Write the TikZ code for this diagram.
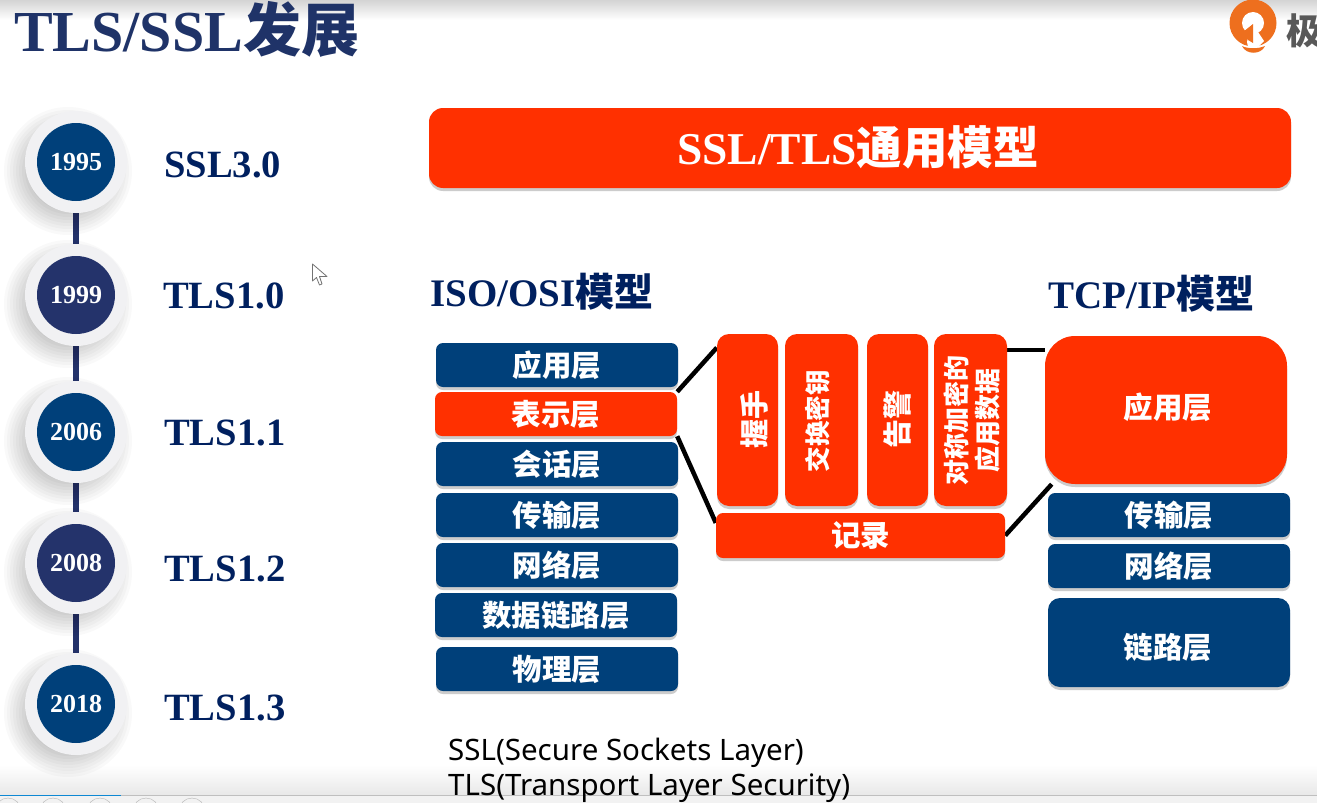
\documentclass[tikz,border=0pt]{standalone}
\usepackage{xcolor}
\usepackage{fontspec}
\usepackage{tikz}
\usetikzlibrary{backgrounds,shadows}
\setmainfont{Liberation Serif}
\setsansfont{Noto Sans}
\newfontfamily\cjk{Noto Sans CJK SC}
\definecolor{navy}{HTML}{00407A}
\definecolor{indigo}{HTML}{24336B}
\definecolor{inkblue}{HTML}{00205F}
\definecolor{titleblue}{HTML}{1F3368}
\definecolor{alert}{HTML}{FF3000}
\definecolor{ringgray}{HTML}{F1F1F3}
\definecolor{logoorange}{HTML}{EE6F1E}
\tikzset{
  every picture/.style={line cap=butt, line join=round},
  layer/.style={rounded corners=7pt, text=white, font=\cjk\bfseries\fontsize{29.5}{31}\selectfont,
    inner sep=0pt, drop shadow={shadow xshift=0pt, shadow yshift=-3pt, opacity=.4}},
  navylayer/.style={layer, fill=navy},
  redlayer/.style={layer, fill=alert},
  redcol/.style={redlayer, rounded corners=12pt, minimum height=172pt},
  collabel/.style={text=white, rotate=90, align=center, inner sep=0pt},
  boxlabel/.style={text=white, inner sep=0pt, font=\cjk\bfseries\fontsize{29.5}{31}\selectfont},
  osibox/.style={navylayer, minimum width=242pt, minimum height=44pt},
  ring/.style={circle, fill=ringgray, minimum size=102pt, inner sep=0pt},
  disc/.style={circle, minimum size=78pt, inner sep=0pt, text=white, font=\bfseries\fontsize{26}{28}\selectfont},
  version/.style={anchor=west, inner sep=0pt, text=inkblue, font=\bfseries\fontsize{38.6}{41}\selectfont},
  modelhead/.style={anchor=west, inner sep=0pt, text=inkblue, font=\bfseries\fontsize{39}{41}\selectfont},
  spine/.style={draw=indigo, line width=6pt, xshift=-1pt},
  link/.style={draw=black, line width=4.5pt},
  note/.style={anchor=west, inner sep=0pt, font=\sffamily\fontsize{29.5}{31}\selectfont}
}
\newcommand{\YearStop}[3]{%
  % #1 = year (also the node name), #2 = y position, #3 = disc colour
  \foreach \r in {64,61,...,40}
    \fill[black, opacity=.022] (68,#2+9) circle (\r pt);
  \node[ring] (ring#1) at (76,#2) {};
  \node[disc, fill=#3] (disc#1) at (76,#2) {#1};
}

\begin{document}
\begin{tikzpicture}[x=1pt,y=-1pt]
  \useasboundingbox (0,0) rectangle (1317,803);
  \begin{scope}[on background layer]
    \fill[white] (0,0) rectangle (1317,803);
  \end{scope}

  % window edges
  \shade[top color=black!17, bottom color=white] (0,0) rectangle (1317,20);
  \shade[top color=white, bottom color=black!9] (0,765) rectangle (1317,795);
  \fill[black!5] (0,795) rectangle (1317,803);
  \fill[black!25] (0,795) rectangle (1317,796);
  \fill[cyan!70!blue] (0,795) rectangle (121,796);
  \foreach \x in {8,53,100,146,192}
    \draw[black!30] (\x,811) circle (13pt);

  % heading and logo
  \node[anchor=base west, inner sep=0pt, text=titleblue, font=\bfseries\fontsize{58}{60}\selectfont]
    (heading) at (14,51) {TLS/SSL{\cjk 发展}};
  \fill[logoorange] (1253,23) circle (23.5pt);
  \fill[white] (1253,23) circle (11pt);
  \fill[white] (1249,32) -- (1258,32) -- (1264,41) -- (1258,47) -- (1248,47) -- (1247,42) -- cycle;
  \fill[logoorange] (1253,24) -- (1243,32) -- (1248,40) -- (1253,43) -- cycle;
  \fill[logoorange] (1242,46) .. controls (1248,49) and (1258,49) .. (1265,46)
    .. controls (1261,55) and (1246,55) .. (1242,46);
  \node[anchor=west, inner sep=0pt, text=black!65, font=\cjk\bfseries\fontsize{36}{38}\selectfont]
    (brand) at (1286,31) {极};

  % release timeline
  \YearStop{1995}{162}{navy}
  \YearStop{1999}{295}{indigo}
  \YearStop{2006}{432}{navy}
  \YearStop{2008}{563}{indigo}
  \YearStop{2018}{704}{navy}
  \begin{scope}[on background layer]
    \draw[spine] (ring1995) -- (ring1999);
    \draw[spine] (ring1999) -- (ring2006);
    \draw[spine] (ring2006) -- (ring2008);
    \draw[spine] (ring2008) -- (ring2018);
  \end{scope}

  \node[version] (ssl30) at (164,165) {SSL3.0};
  \node[version] (tls10) at (163,296) {TLS1.0};
  \node[version] (tls11) at (164,433) {TLS1.1};
  \node[version] (tls12) at (164,569) {TLS1.2};
  \node[version] (tls13) at (164,708) {TLS1.3};

  % pointer
  \draw[black!55, fill=white, line width=.8pt] (312.5,264) -- (312.5,281) -- (316.5,277.5) -- (319.5,285)
    -- (322,284) -- (319.5,276.5) -- (327,276.5) -- cycle;

  % banner
  \node[redlayer, rounded corners=14pt, minimum width=862pt, minimum height=80pt] (banner) at (860,148) {};
  \node[boxlabel, font=\bfseries\fontsize{45.5}{47}\selectfont] (bannertxt) at (858,147) {SSL/TLS{\cjk 通用模型}};

  % model headings
  \node[modelhead] (isohead) at (430,292) {ISO/OSI{\cjk 模型}};
  \node[modelhead] (tcphead) at (1048,294) {TCP/IP{\cjk 模型}};

  % OSI stack
  \node[osibox] (osiapp) at (557,365) {应用层};
  \node[osibox, fill=alert] (osipres) at (556,414) {表示层};
  \node[osibox] (osisess) at (557,464) {会话层};
  \node[osibox] (ositrans) at (557,515) {传输层};
  \node[osibox] (osinet) at (557,565) {网络层};
  \node[osibox] (osilink) at (556,615) {数据链路层};
  \node[osibox] (osiphys) at (557,669) {物理层};

  % TCP/IP stack
  \node[navylayer, fill=alert, rounded corners=30pt, minimum width=242pt, minimum height=148pt]
    (tcpapp) at (1166,410) {};
  \node[boxlabel] (tcpapptxt) at (1168,407) {应用层};
  \node[osibox] (tcptrans) at (1169,515) {传输层};
  \node[osibox] (tcpnet) at (1169,566) {网络层};
  \node[navylayer, rounded corners=12pt, minimum width=242pt, minimum height=89pt]
    (tcplink) at (1169,642.5) {};
  \node[boxlabel] (tcplinktxt) at (1168,647) {链路层};

  % TLS sub-protocols
  \node[redcol, minimum width=61pt] (shake) at (747.5,420) {};
  \node[collabel, font=\cjk\bfseries\fontsize{29}{31}\selectfont] (shaketxt) at (754,419) {握手};
  \node[redcol, minimum width=73pt] (keyx) at (821.5,420) {};
  \node[collabel, font=\cjk\bfseries\fontsize{25.5}{28}\selectfont] (keyxtxt) at (817.5,421) {交换密钥};
  \node[redcol, minimum width=61pt] (warn) at (897.5,420) {};
  \node[collabel, font=\cjk\bfseries\fontsize{29}{31}\selectfont] (warntxt) at (897,419) {告警};
  \node[redcol, minimum width=73pt] (appdata) at (970.5,420) {};
  \node[collabel, font=\cjk\bfseries\fontsize{26}{31}\selectfont] (appdatatxt) at (972,420) {对称加密的\\应用数据};
  \node[redlayer, minimum width=289pt, minimum height=45pt] (record) at (860.5,535.5) {记录};

  % links between the stacks
  \begin{scope}[on background layer]
    \draw[link] (osipres.north east) -- (shake.113);
    \draw[link] (osipres.south east) -- (record.175);
    \draw[link] (appdata.east |- 0,350) -- (tcpapp.west |- 0,350);
    \draw[link] (record.east) -- (tcpapp.213);
  \end{scope}

  % acronyms
  \node[note] (sslnote) at (448,753) {SSL(Secure Sockets Layer)};
  \node[note] (tlsnote) at (448,788) {TLS(Transport Layer Security)};
\end{tikzpicture}
\end{document}
